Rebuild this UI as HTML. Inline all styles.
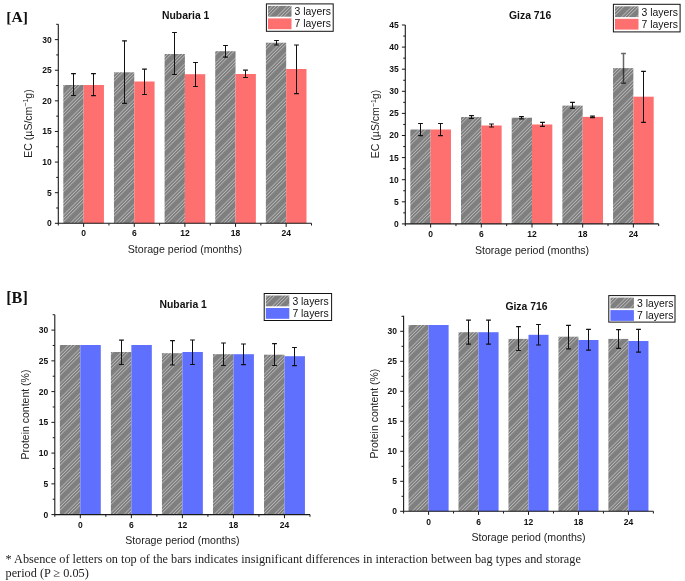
<!DOCTYPE html>
<html><head><meta charset="utf-8"><title>Figure</title>
<style>
html,body{margin:0;padding:0;background:#fff;}
body{width:685px;height:581px;overflow:hidden;position:relative;}
svg{position:absolute;left:0;top:0;display:block;will-change:transform;}
text{font-family:"Liberation Sans", sans-serif;}
.tk{font-weight:bold;font-size:8.5px;fill:#111;}
.ti{font-weight:bold;font-size:10.4px;fill:#111;}
.lb{font-size:10.5px;fill:#222;}
.xt{font-size:10.6px;fill:#222;}
.lg{font-size:10.4px;fill:#111;}
.note{position:absolute;left:5.5px;top:553.5px;width:680px;font-family:"Liberation Serif", serif;font-size:12.27px;line-height:13.6px;color:#222;white-space:nowrap;}
</style></head><body>
<svg width="685" height="581" viewBox="0 0 685 581">
<defs>
<pattern id="h" patternUnits="userSpaceOnUse" width="15" height="15"><rect width="15" height="15" fill="#7f7f7f"/><line x1="-22.5" y1="16" x2="-5.5" y2="-1" stroke="#dedede" stroke-width="0.65"/><line x1="-7.5" y1="16" x2="9.5" y2="-1" stroke="#dedede" stroke-width="0.65"/><line x1="7.5" y1="16" x2="24.5" y2="-1" stroke="#dedede" stroke-width="0.65"/><line x1="-19.1" y1="16" x2="-2.1" y2="-1" stroke="#dedede" stroke-width="0.65"/><line x1="-4.1" y1="16" x2="12.9" y2="-1" stroke="#dedede" stroke-width="0.65"/><line x1="10.9" y1="16" x2="27.9" y2="-1" stroke="#dedede" stroke-width="0.65"/><line x1="-15.7" y1="16" x2="1.3" y2="-1" stroke="#dedede" stroke-width="0.65"/><line x1="-0.7" y1="16" x2="16.3" y2="-1" stroke="#dedede" stroke-width="0.65"/><line x1="14.3" y1="16" x2="31.3" y2="-1" stroke="#dedede" stroke-width="0.65"/></pattern>
</defs>
<text x="6.2" y="21.9" style="font-family:'Liberation Serif', serif;font-weight:bold;font-size:15.6px;fill:#111">[A]</text>
<text x="6.2" y="302.9" style="font-family:'Liberation Serif', serif;font-weight:bold;font-size:16.2px;fill:#111">[B]</text>
<rect x="63.31" y="85" width="20.31" height="138.3" fill="url(#h)"/><rect x="83.62" y="85" width="20.31" height="138.3" fill="#fe6f6f"/>
<rect x="113.95" y="72.3" width="20.31" height="151" fill="url(#h)"/><rect x="134.26" y="81.5" width="20.31" height="141.8" fill="#fe6f6f"/>
<rect x="164.59" y="54" width="20.31" height="169.3" fill="url(#h)"/><rect x="184.9" y="74.2" width="20.31" height="149.1" fill="#fe6f6f"/>
<rect x="215.23" y="51.2" width="20.31" height="172.1" fill="url(#h)"/><rect x="235.54" y="74" width="20.31" height="149.3" fill="#fe6f6f"/>
<rect x="265.87" y="42.7" width="20.31" height="180.6" fill="url(#h)"/><rect x="286.18" y="69" width="20.31" height="154.3" fill="#fe6f6f"/>
<path d="M73.5 73.7V95.5" stroke="#111" stroke-width="1" fill="none"/><path d="M71.1 73.7h4.8M71.1 95.5h4.8" stroke="#111" stroke-width="1.2" fill="none"/><path d="M93.5 73.7V95.7" stroke="#111" stroke-width="1" fill="none"/><path d="M91.1 73.7h4.8M91.1 95.7h4.8" stroke="#111" stroke-width="1.2" fill="none"/>
<path d="M124.5 40.8V103.3" stroke="#111" stroke-width="1" fill="none"/><path d="M122.1 40.8h4.8M122.1 103.3h4.8" stroke="#111" stroke-width="1.2" fill="none"/><path d="M144.5 69.1V94.5" stroke="#111" stroke-width="1" fill="none"/><path d="M142.1 69.1h4.8M142.1 94.5h4.8" stroke="#111" stroke-width="1.2" fill="none"/>
<path d="M174.5 32.5V74.5" stroke="#111" stroke-width="1" fill="none"/><path d="M172.1 32.5h4.8M172.1 74.5h4.8" stroke="#111" stroke-width="1.2" fill="none"/><path d="M195.5 62.5V86.5" stroke="#111" stroke-width="1" fill="none"/><path d="M193.1 62.5h4.8M193.1 86.5h4.8" stroke="#111" stroke-width="1.2" fill="none"/>
<path d="M225.5 45.5V57.2" stroke="#111" stroke-width="1" fill="none"/><path d="M223.1 45.5h4.8M223.1 57.2h4.8" stroke="#111" stroke-width="1.2" fill="none"/><path d="M245.5 70.2V77.5" stroke="#111" stroke-width="1" fill="none"/><path d="M243.1 70.2h4.8M243.1 77.5h4.8" stroke="#111" stroke-width="1.2" fill="none"/>
<path d="M276.5 40.5V45" stroke="#111" stroke-width="1" fill="none"/><path d="M274.1 40.5h4.8M274.1 45h4.8" stroke="#111" stroke-width="1.2" fill="none"/><path d="M296.5 45V93.7" stroke="#111" stroke-width="1" fill="none"/><path d="M294.1 45h4.8M294.1 93.7h4.8" stroke="#111" stroke-width="1.2" fill="none"/>
<path d="M58.3 24.3V223.3H311.5" stroke="#1a1a1a" stroke-width="1.1" fill="none"/>
<path d="M54.9 223.3H58.3M56.2 207.99H58.3M54.9 192.69H58.3M56.2 177.38H58.3M54.9 162.07H58.3M56.2 146.76H58.3M54.9 131.46H58.3M56.2 116.15H58.3M54.9 100.84H58.3M56.2 85.53H58.3M54.9 70.22H58.3M56.2 54.92H58.3M54.9 39.61H58.3M56.2 24.3H58.3M58.3 223.3V225.5M108.94 223.3V225.5M159.58 223.3V225.5M210.22 223.3V225.5M260.86 223.3V225.5M311.5 223.3V225.5M83.62 223.3V226.9M134.26 223.3V226.9M184.9 223.3V226.9M235.54 223.3V226.9M286.18 223.3V226.9" stroke="#1a1a1a" stroke-width="1" fill="none"/>
<text class="tk" x="51.7" y="226.2" text-anchor="end">0</text><text class="tk" x="51.7" y="195.59" text-anchor="end">5</text><text class="tk" x="51.7" y="164.97" text-anchor="end">10</text><text class="tk" x="51.7" y="134.36" text-anchor="end">15</text><text class="tk" x="51.7" y="103.74" text-anchor="end">20</text><text class="tk" x="51.7" y="73.12" text-anchor="end">25</text><text class="tk" x="51.7" y="42.51" text-anchor="end">30</text>
<text class="tk" x="83.62" y="235.8" text-anchor="middle">0</text><text class="tk" x="134.26" y="235.8" text-anchor="middle">6</text><text class="tk" x="184.9" y="235.8" text-anchor="middle">12</text><text class="tk" x="235.54" y="235.8" text-anchor="middle">18</text><text class="tk" x="286.18" y="235.8" text-anchor="middle">24</text>
<text class="xt" x="184.9" y="253.3" text-anchor="middle">Storage period (months)</text>
<text class="lb" transform="translate(31.8 123.5) rotate(-90)" text-anchor="middle">EC (µS/cm<tspan dy="-3.5" style="font-size:7px">−1</tspan><tspan dy="3.5">g)</tspan></text>
<text class="ti" x="162" y="18.6">Nubaria 1</text>
<rect x="266.4" y="3.9" width="66.8" height="27.4" fill="#fff" stroke="#111" stroke-width="1"/><rect x="268" y="5.9" width="23.5" height="10.8" fill="url(#h)"/><rect x="268" y="18.4" width="23.5" height="10.8" fill="#fe6f6f"/><text class="lg" x="294.6" y="15.2">3 layers</text><text class="lg" x="294.6" y="27.2">7 layers</text>
<rect x="410.32" y="129.5" width="20.32" height="94.4" fill="url(#h)"/><rect x="430.64" y="129.5" width="20.32" height="94.4" fill="#fe6f6f"/>
<rect x="461" y="117" width="20.32" height="106.9" fill="url(#h)"/><rect x="481.32" y="125.5" width="20.32" height="98.4" fill="#fe6f6f"/>
<rect x="511.68" y="117.7" width="20.32" height="106.2" fill="url(#h)"/><rect x="532" y="124.5" width="20.32" height="99.4" fill="#fe6f6f"/>
<rect x="562.36" y="105.6" width="20.32" height="118.3" fill="url(#h)"/><rect x="582.68" y="116.9" width="20.32" height="107" fill="#fe6f6f"/>
<rect x="613.04" y="68.1" width="20.32" height="155.8" fill="url(#h)"/><rect x="633.36" y="96.7" width="20.32" height="127.2" fill="#fe6f6f"/>
<path d="M420.5 123.5V135.7" stroke="#111" stroke-width="1" fill="none"/><path d="M418.1 123.5h4.8M418.1 135.7h4.8" stroke="#111" stroke-width="1.2" fill="none"/><path d="M440.5 123.5V135.7" stroke="#111" stroke-width="1" fill="none"/><path d="M438.1 123.5h4.8M438.1 135.7h4.8" stroke="#111" stroke-width="1.2" fill="none"/>
<path d="M471.5 115.7V118.5" stroke="#111" stroke-width="1" fill="none"/><path d="M469.1 115.7h4.8M469.1 118.5h4.8" stroke="#111" stroke-width="1.2" fill="none"/><path d="M491.5 124V127" stroke="#111" stroke-width="1" fill="none"/><path d="M489.1 124h4.8M489.1 127h4.8" stroke="#111" stroke-width="1.2" fill="none"/>
<path d="M521.5 116.7V118.8" stroke="#111" stroke-width="1" fill="none"/><path d="M519.1 116.7h4.8M519.1 118.8h4.8" stroke="#111" stroke-width="1.2" fill="none"/><path d="M542.5 122.3V126.4" stroke="#111" stroke-width="1" fill="none"/><path d="M540.1 122.3h4.8M540.1 126.4h4.8" stroke="#111" stroke-width="1.2" fill="none"/>
<path d="M572.5 102.3V108.3" stroke="#111" stroke-width="1" fill="none"/><path d="M570.1 102.3h4.8M570.1 108.3h4.8" stroke="#111" stroke-width="1.2" fill="none"/><path d="M592.5 116.1V117.7" stroke="#111" stroke-width="1" fill="none"/><path d="M590.1 116.1h4.8M590.1 117.7h4.8" stroke="#111" stroke-width="1.2" fill="none"/>
<path d="M623.5 53.5V83.2M621.1 53.5h4.8M621.1 83.2h4.8" stroke="#000" stroke-opacity="0.6" stroke-width="1.5" fill="none"/><path d="M643.5 71.3V122.3" stroke="#111" stroke-width="1" fill="none"/><path d="M641.1 71.3h4.8M641.1 122.3h4.8" stroke="#111" stroke-width="1.2" fill="none"/>
<path d="M405.3 25V223.9H658.7" stroke="#1a1a1a" stroke-width="1.1" fill="none"/>
<path d="M401.9 223.9H405.3M403.2 212.85H405.3M401.9 201.8H405.3M403.2 190.75H405.3M401.9 179.7H405.3M403.2 168.65H405.3M401.9 157.6H405.3M403.2 146.55H405.3M401.9 135.5H405.3M403.2 124.45H405.3M401.9 113.4H405.3M403.2 102.35H405.3M401.9 91.3H405.3M403.2 80.25H405.3M401.9 69.2H405.3M403.2 58.15H405.3M401.9 47.1H405.3M403.2 36.05H405.3M401.9 25H405.3M405.3 223.9V226.1M455.98 223.9V226.1M506.66 223.9V226.1M557.34 223.9V226.1M608.02 223.9V226.1M658.7 223.9V226.1M430.64 223.9V227.5M481.32 223.9V227.5M532 223.9V227.5M582.68 223.9V227.5M633.36 223.9V227.5" stroke="#1a1a1a" stroke-width="1" fill="none"/>
<text class="tk" x="398.7" y="226.8" text-anchor="end">0</text><text class="tk" x="398.7" y="204.7" text-anchor="end">5</text><text class="tk" x="398.7" y="182.6" text-anchor="end">10</text><text class="tk" x="398.7" y="160.5" text-anchor="end">15</text><text class="tk" x="398.7" y="138.4" text-anchor="end">20</text><text class="tk" x="398.7" y="116.3" text-anchor="end">25</text><text class="tk" x="398.7" y="94.2" text-anchor="end">30</text><text class="tk" x="398.7" y="72.1" text-anchor="end">35</text><text class="tk" x="398.7" y="50" text-anchor="end">40</text><text class="tk" x="398.7" y="27.9" text-anchor="end">45</text>
<text class="tk" x="430.64" y="236.5" text-anchor="middle">0</text><text class="tk" x="481.32" y="236.5" text-anchor="middle">6</text><text class="tk" x="532" y="236.5" text-anchor="middle">12</text><text class="tk" x="582.68" y="236.5" text-anchor="middle">18</text><text class="tk" x="633.36" y="236.5" text-anchor="middle">24</text>
<text class="xt" x="532" y="253.5" text-anchor="middle">Storage period (months)</text>
<text class="lb" transform="translate(379 124) rotate(-90)" text-anchor="middle">EC (µS/cm<tspan dy="-3.5" style="font-size:7px">−1</tspan><tspan dy="3.5">g)</tspan></text>
<text class="ti" x="509" y="19">Giza 716</text>
<rect x="613.4" y="4.3" width="66.7" height="27.6" fill="#fff" stroke="#111" stroke-width="1"/><rect x="615" y="6.3" width="23.5" height="10.8" fill="url(#h)"/><rect x="615" y="18.8" width="23.5" height="10.8" fill="#fe6f6f"/><text class="lg" x="641.6" y="15.6">3 layers</text><text class="lg" x="641.6" y="27.6">7 layers</text>
<rect x="59.85" y="345" width="20.47" height="169.6" fill="url(#h)"/><rect x="80.32" y="345" width="20.47" height="169.6" fill="#5f70fe"/>
<rect x="110.89" y="352" width="20.47" height="162.6" fill="url(#h)"/><rect x="131.36" y="345" width="20.47" height="169.6" fill="#5f70fe"/>
<rect x="161.93" y="353.2" width="20.47" height="161.4" fill="url(#h)"/><rect x="182.4" y="352" width="20.47" height="162.6" fill="#5f70fe"/>
<rect x="212.97" y="354.2" width="20.47" height="160.4" fill="url(#h)"/><rect x="233.44" y="354.2" width="20.47" height="160.4" fill="#5f70fe"/>
<rect x="264.01" y="354.7" width="20.47" height="159.9" fill="url(#h)"/><rect x="284.48" y="356.2" width="20.47" height="158.4" fill="#5f70fe"/>

<path d="M121.5 340.2V364.5" stroke="#111" stroke-width="1" fill="none"/><path d="M119.1 340.2h4.8M119.1 364.5h4.8" stroke="#111" stroke-width="1.2" fill="none"/>
<path d="M172.5 340.7V365" stroke="#111" stroke-width="1" fill="none"/><path d="M170.1 340.7h4.8M170.1 365h4.8" stroke="#111" stroke-width="1.2" fill="none"/><path d="M192.5 340V364.5" stroke="#111" stroke-width="1" fill="none"/><path d="M190.1 340h4.8M190.1 364.5h4.8" stroke="#111" stroke-width="1.2" fill="none"/>
<path d="M223.5 343V365.5" stroke="#111" stroke-width="1" fill="none"/><path d="M221.1 343h4.8M221.1 365.5h4.8" stroke="#111" stroke-width="1.2" fill="none"/><path d="M243.5 344V364.7" stroke="#111" stroke-width="1" fill="none"/><path d="M241.1 344h4.8M241.1 364.7h4.8" stroke="#111" stroke-width="1.2" fill="none"/>
<path d="M274.5 343.7V365.5" stroke="#111" stroke-width="1" fill="none"/><path d="M272.1 343.7h4.8M272.1 365.5h4.8" stroke="#111" stroke-width="1.2" fill="none"/><path d="M294.5 347.5V365.7" stroke="#111" stroke-width="1" fill="none"/><path d="M292.1 347.5h4.8M292.1 365.7h4.8" stroke="#111" stroke-width="1.2" fill="none"/>
<path d="M54.8 314.73V514.6H310" stroke="#1a1a1a" stroke-width="1.1" fill="none"/>
<path d="M51.4 514.6H54.8M52.7 499.23H54.8M51.4 483.85H54.8M52.7 468.48H54.8M51.4 453.1H54.8M52.7 437.73H54.8M51.4 422.35H54.8M52.7 406.98H54.8M51.4 391.6H54.8M52.7 376.23H54.8M51.4 360.85H54.8M52.7 345.48H54.8M51.4 330.1H54.8M52.7 314.73H54.8M54.8 514.6V516.8M105.84 514.6V516.8M156.88 514.6V516.8M207.92 514.6V516.8M258.96 514.6V516.8M310 514.6V516.8M80.32 514.6V518.2M131.36 514.6V518.2M182.4 514.6V518.2M233.44 514.6V518.2M284.48 514.6V518.2" stroke="#1a1a1a" stroke-width="1" fill="none"/>
<text class="tk" x="48.2" y="517.5" text-anchor="end">0</text><text class="tk" x="48.2" y="486.75" text-anchor="end">5</text><text class="tk" x="48.2" y="456" text-anchor="end">10</text><text class="tk" x="48.2" y="425.25" text-anchor="end">15</text><text class="tk" x="48.2" y="394.5" text-anchor="end">20</text><text class="tk" x="48.2" y="363.75" text-anchor="end">25</text><text class="tk" x="48.2" y="333" text-anchor="end">30</text>
<text class="tk" x="80.32" y="527.5" text-anchor="middle">0</text><text class="tk" x="131.36" y="527.5" text-anchor="middle">6</text><text class="tk" x="182.4" y="527.5" text-anchor="middle">12</text><text class="tk" x="233.44" y="527.5" text-anchor="middle">18</text><text class="tk" x="284.48" y="527.5" text-anchor="middle">24</text>
<text class="xt" x="182.4" y="544.4" text-anchor="middle">Storage period (months)</text>
<text class="lb" transform="translate(28.5 414.5) rotate(-90)" text-anchor="middle">Protein content (%)</text>
<text class="ti" x="159.5" y="308">Nubaria 1</text>
<rect x="264.2" y="293.5" width="67.4" height="27" fill="#fff" stroke="#111" stroke-width="1"/><rect x="265.8" y="295.5" width="23.5" height="10.8" fill="url(#h)"/><rect x="265.8" y="308" width="23.5" height="10.8" fill="#5f70fe"/><text class="lg" x="292.4" y="304.8">3 layers</text><text class="lg" x="292.4" y="316.8">7 layers</text>
<rect x="408.55" y="325" width="20.03" height="186.3" fill="url(#h)"/><rect x="428.58" y="325" width="20.03" height="186.3" fill="#5f70fe"/>
<rect x="458.51" y="332.2" width="20.03" height="179.1" fill="url(#h)"/><rect x="478.54" y="332.2" width="20.03" height="179.1" fill="#5f70fe"/>
<rect x="508.47" y="338.9" width="20.03" height="172.4" fill="url(#h)"/><rect x="528.5" y="334.8" width="20.03" height="176.5" fill="#5f70fe"/>
<rect x="558.43" y="336.7" width="20.03" height="174.6" fill="url(#h)"/><rect x="578.46" y="340" width="20.03" height="171.3" fill="#5f70fe"/>
<rect x="608.39" y="338.9" width="20.03" height="172.4" fill="url(#h)"/><rect x="628.42" y="341" width="20.03" height="170.3" fill="#5f70fe"/>

<path d="M468.5 320.2V344.2" stroke="#111" stroke-width="1" fill="none"/><path d="M466.1 320.2h4.8M466.1 344.2h4.8" stroke="#111" stroke-width="1.2" fill="none"/><path d="M488.5 320.2V344.2" stroke="#111" stroke-width="1" fill="none"/><path d="M486.1 320.2h4.8M486.1 344.2h4.8" stroke="#111" stroke-width="1.2" fill="none"/>
<path d="M518.5 326.7V350.5" stroke="#111" stroke-width="1" fill="none"/><path d="M516.1 326.7h4.8M516.1 350.5h4.8" stroke="#111" stroke-width="1.2" fill="none"/><path d="M538.5 324.5V345" stroke="#111" stroke-width="1" fill="none"/><path d="M536.1 324.5h4.8M536.1 345h4.8" stroke="#111" stroke-width="1.2" fill="none"/>
<path d="M568.5 325.4V348.9" stroke="#111" stroke-width="1" fill="none"/><path d="M566.1 325.4h4.8M566.1 348.9h4.8" stroke="#111" stroke-width="1.2" fill="none"/><path d="M588.5 329.4V350.2" stroke="#111" stroke-width="1" fill="none"/><path d="M586.1 329.4h4.8M586.1 350.2h4.8" stroke="#111" stroke-width="1.2" fill="none"/>
<path d="M618.5 329.7V348.3" stroke="#111" stroke-width="1" fill="none"/><path d="M616.1 329.7h4.8M616.1 348.3h4.8" stroke="#111" stroke-width="1.2" fill="none"/><path d="M638.5 329.4V352.1" stroke="#111" stroke-width="1" fill="none"/><path d="M636.1 329.4h4.8M636.1 352.1h4.8" stroke="#111" stroke-width="1.2" fill="none"/>
<path d="M403.6 315.7V511.3H653.4" stroke="#1a1a1a" stroke-width="1.1" fill="none"/>
<path d="M400.2 511.3H403.6M401.5 496.3H403.6M400.2 481.3H403.6M401.5 466.3H403.6M400.2 451.3H403.6M401.5 436.3H403.6M400.2 421.3H403.6M401.5 406.3H403.6M400.2 391.3H403.6M401.5 376.3H403.6M400.2 361.3H403.6M401.5 346.3H403.6M400.2 331.3H403.6M401.5 316.3H403.6M403.6 511.3V513.5M453.56 511.3V513.5M503.52 511.3V513.5M553.48 511.3V513.5M603.44 511.3V513.5M653.4 511.3V513.5M428.58 511.3V514.9M478.54 511.3V514.9M528.5 511.3V514.9M578.46 511.3V514.9M628.42 511.3V514.9" stroke="#1a1a1a" stroke-width="1" fill="none"/>
<text class="tk" x="397" y="514.2" text-anchor="end">0</text><text class="tk" x="397" y="484.2" text-anchor="end">5</text><text class="tk" x="397" y="454.2" text-anchor="end">10</text><text class="tk" x="397" y="424.2" text-anchor="end">15</text><text class="tk" x="397" y="394.2" text-anchor="end">20</text><text class="tk" x="397" y="364.2" text-anchor="end">25</text><text class="tk" x="397" y="334.2" text-anchor="end">30</text>
<text class="tk" x="428.58" y="524.5" text-anchor="middle">0</text><text class="tk" x="478.54" y="524.5" text-anchor="middle">6</text><text class="tk" x="528.5" y="524.5" text-anchor="middle">12</text><text class="tk" x="578.46" y="524.5" text-anchor="middle">18</text><text class="tk" x="628.42" y="524.5" text-anchor="middle">24</text>
<text class="xt" x="528.5" y="540.9" text-anchor="middle">Storage period (months)</text>
<text class="lb" transform="translate(377.7 413.6) rotate(-90)" text-anchor="middle">Protein content (%)</text>
<text class="ti" x="505.4" y="309.8">Giza 716</text>
<rect x="608.8" y="295.6" width="66.2" height="26.5" fill="#fff" stroke="#111" stroke-width="1"/><rect x="610.4" y="297.6" width="23.5" height="10.8" fill="url(#h)"/><rect x="610.4" y="310.1" width="23.5" height="10.8" fill="#5f70fe"/><text class="lg" x="637" y="306.9">3 layers</text><text class="lg" x="637" y="318.9">7 layers</text>
</svg>
<div class="note" style="top:552.5px">* Absence of letters on top of the bars indicates insignificant differences in interaction between bag types and storage</div>
<div class="note" style="top:566.8px">period (P ≥ 0.05)</div>
</body></html>
